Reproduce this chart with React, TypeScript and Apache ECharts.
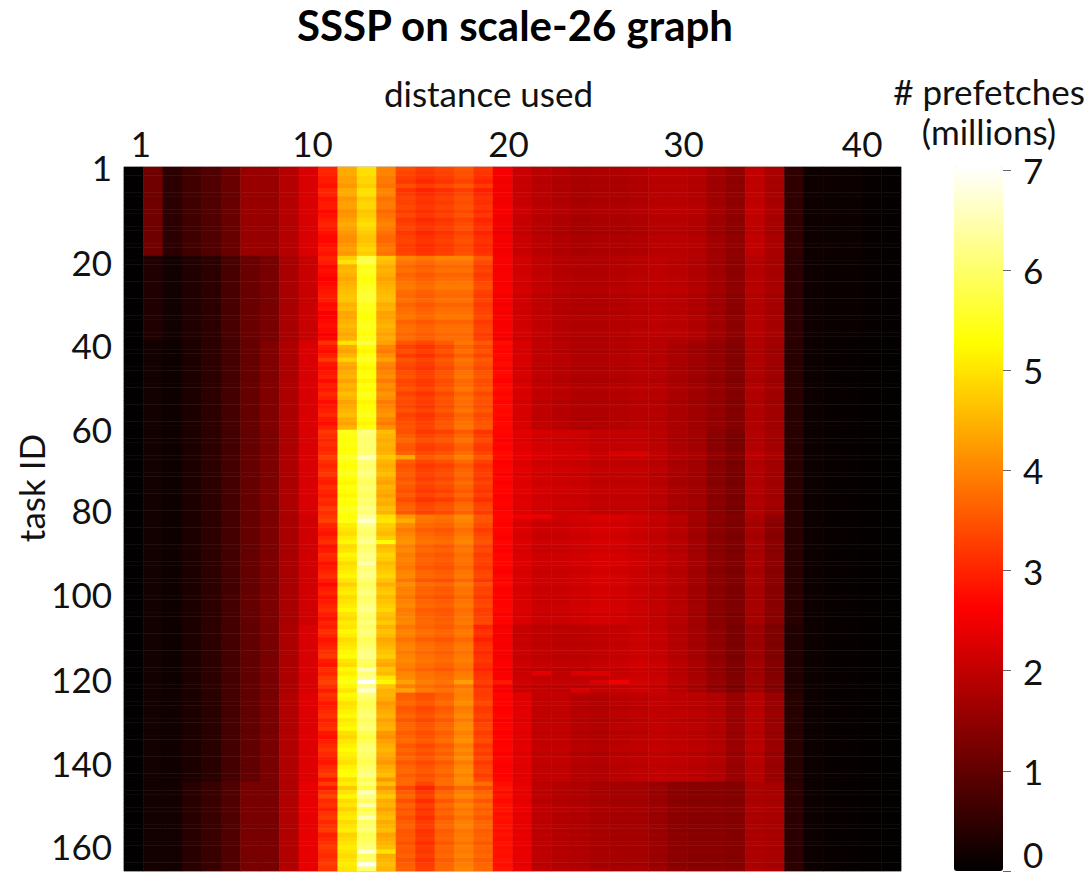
import React, { useEffect, useRef } from "react";
import * as echarts from "echarts";

const FONT = "Lato";

// Column and row categories
const distances = Array.from({ length: 40 }, (_, i) => String(i + 1));
const taskIds = Array.from({ length: 166 }, (_, i) => String(i + 1));

// Tick labels, with where they sit along the axes (in columns / rows)
const xTickLabels = ["1", "10", "20", "30", "40"];
const xTickPos = [0.87, 9.7, 19.8, 28.8, 38];
const yTickLabels = ["1", "20", "40", "60", "80", "100", "120", "140", "160"];
const yTickPos = [0, 22.3, 41.9, 61.8, 80.8, 100.7, 120.7, 140.5, 160.1];

// Prefetch counts (millions) by distance, for blocks of tasks
const blockA = [.02,1.16,.45,.66,.83,1.08,1.57,1.57,1.86,2.23,2.8,4.2,4.75,3.8,3.3,3.14,3.26,3.42,3.1,2.52,2.07,1.9,1.82,1.74,1.78,1.78,1.82,1.9,1.9,1.86,1.65,1.49,1.98,1.74,.5,.16,.12,.12,.06,.05];
const blockB = [.02,.33,.2,.33,.45,.74,1.08,1.24,1.74,2.07,2.7,4.46,5.42,4.4,3.76,3.63,3.76,3.76,3.3,2.56,2.15,1.98,1.86,1.82,1.82,1.86,1.9,1.94,1.9,1.82,1.65,1.45,1.86,1.7,.45,.14,.1,.1,.06,.05];
const blockC = [.02,.2,.16,.29,.45,.7,1.03,1.32,1.78,2.23,2.85,4.4,5.28,4.0,3.4,3.25,3.47,3.76,3.47,2.72,2.23,1.98,1.9,1.82,1.82,1.86,1.9,1.88,1.76,1.65,1.53,1.37,1.82,1.65,.42,.12,.08,.06,.04,.03];
const blockD = [.02,.2,.16,.29,.45,.7,1.03,1.28,1.78,2.23,3.0,5.28,5.98,4.4,3.55,3.3,3.4,3.65,3.25,2.64,2.3,2.15,2.1,2.07,1.98,1.98,1.98,1.9,1.74,1.65,1.41,1.24,1.82,1.65,.42,.12,.08,.06,.04,.03];
const blockE = [.02,.2,.16,.29,.45,.7,1.03,1.28,1.74,2.15,2.9,5.0,6.05,4.65,3.96,3.63,3.55,3.8,3.3,2.64,2.23,2.07,2.07,2.12,2.18,2.15,2.07,1.98,1.86,1.65,1.41,1.28,1.7,1.41,.42,.12,.08,.06,.04,.03];
const blockF = [.02,.2,.16,.29,.45,.7,.99,1.24,1.78,2.23,2.92,5.0,5.95,4.46,3.9,3.7,3.6,3.8,3.05,2.56,2.07,1.98,1.94,1.94,1.98,2.03,2.1,2.03,1.86,1.7,1.49,1.28,1.6,1.32,.33,.12,.08,.06,.04,.03];
const blockG = [.02,.2,.18,.29,.42,.7,.99,1.24,1.82,2.3,2.95,5.05,5.9,4.3,3.63,3.47,3.65,4.0,3.3,2.64,2.32,1.98,1.98,1.86,1.82,1.9,1.94,1.98,1.94,1.9,1.82,1.57,1.86,1.57,.4,.12,.08,.06,.04,.03];
const blockH = [.02,.2,.2,.42,.58,.83,1.24,1.24,1.82,2.4,3.05,4.9,5.9,4.4,3.55,3.2,3.63,3.9,3.63,2.8,2.4,1.94,1.86,1.82,1.74,1.7,1.7,1.6,1.45,1.41,1.41,1.37,1.78,1.74,.45,.12,.08,.06,.04,.03];
const blocks = [blockA, blockB, blockC, blockD, blockE, blockF, blockG, blockH];
const blockFirstRow = [0, 21, 41, 62, 82, 108, 124, 145];

// Row-by-row departures from the block (millions), read for three column groups
const hotRow = [
  .2,.2,.1,.1,0,.2,.2,0,.1,.1,-.1,0,.1,.2,.1,0,-.1,-.1,0,.1,0,
  .3,.2,0,.1,0,-.1,0,.1,.15,.2,.2,0,.1,-.1,-.1,0,.1,0,-.1,0,
  .3,0,-.1,.1,.3,0,-.1,0,.1,-.1,.1,0,.2,.1,-.1,0,.1,.2,0,-.1,.1,
  .2,.1,0,.1,0,.1,.3,.1,0,.1,.2,0,-.1,.1,0,-.1,.1,0,.2,.1,
  .3,.4,.1,0,-.1,.1,.2,-.1,0,.2,.1,-.1,0,.1,.2,0,-.2,0,.1,-.1,0,.1,.2,0,-.1,.1,
  0,.2,.1,-.1,0,.1,.2,.3,0,-.1,.2,.1,.3,.4,.2,0,
  .2,.1,-.1,0,.1,.2,0,.1,.2,-.1,-.2,0,.1,.2,.1,0,-.1,.1,.2,.3,-.1,
  .2,-.2,.1,.3,0,.1,-.1,.1,.2,0,.1,.2,-.1,0,.1,.2,.1,0,.1,.2,.1,
];
const warmRow = [
  .1,.05,0,-.1,.15,-.15,-.05,.05,0,.1,-.05,.1,-.1,0,.05,-.1,0,.05,-.05,0,.05,
  .25,.1,-.05,.05,-.1,0,.1,.15,0,-.05,.05,-.1,0,.05,.1,-.1,0,.05,-.05,0,
  .1,-.1,.05,-.15,.1,0,-.1,.05,.1,-.05,0,.1,-.1,.05,0,-.05,.1,-.1,0,.05,.1,
  -.1,.05,.15,0,-.05,.1,.3,.05,-.1,0,.05,-.05,.1,0,-.1,.05,-.15,.05,.1,0,
  .25,.2,.1,-.05,.05,.15,.2,0,.1,-.05,.05,0,-.1,.05,.1,-.1,.15,0,.05,-.1,.05,.1,-.05,0,.05,.1,
  -.05,.1,.05,-.1,.05,.1,0,.1,.15,.05,-.05,.1,.15,.25,.05,.2,
  -.05,0,.1,-.1,-.05,.05,-.1,.05,.1,-.05,.05,.1,-.1,.05,-.05,.1,-.1,.05,.1,-.05,.1,
  .15,-.2,.05,.15,-.1,.1,-.05,.05,-.1,.05,.1,-.05,0,.05,-.1,.05,0,.1,-.05,.05,.1,
];
const coolRow = [
  0,.03,.01,-.04,.02,-.03,.02,0,-.02,.03,.04,-.02,-.03,.02,-.04,-.05,.02,0,.03,-.02,.01,
  .03,-.02,.04,-.03,.02,.05,-.03,.03,.06,-.04,.02,-.03,.02,-.05,.03,.01,-.02,.02,.05,-.03,
  .03,-.03,-.06,.02,-.04,.02,-.07,.03,-.02,-.08,.01,.03,-.03,.02,-.05,.03,-.02,.01,-.04,.02,-.03,
  .06,.03,-.02,.04,.02,.1,.08,-.03,.02,.05,-.02,.04,-.03,.03,.05,-.04,.02,.03,-.02,.03,
  .08,.03,-.02,.05,.02,-.03,.06,.02,-.02,.06,.03,.08,.02,-.03,.05,.03,.06,-.02,.03,-.04,.02,.03,.05,-.03,.04,.02,
  -.06,.02,-.05,.03,-.04,.02,.03,-.02,.02,.08,-.03,.02,.04,.1,-.02,.05,
  .05,-.02,.03,-.03,.02,.04,-.03,.02,.05,-.03,.03,-.02,.03,.05,-.03,.04,.02,-.03,.02,-.02,.03,
  -.03,.04,-.05,.02,-.06,.01,.04,-.04,.02,-.03,.02,-.02,.03,-.04,.02,-.02,.03,-.02,.02,-.03,.04,
];

// Individual cells that stand out: [row, column, millions]
const standoutCells: [number, number, number][] = [
  [68,12,6.55],[83,12,6.65],[93,12,6.5],[118,12,6.55],[121,12,7.0],[123,12,6.7],[147,12,6.5],[150,12,6.45],[153,12,6.5],[161,12,6.7],[164,12,7.0],
  [83,13,5.0],[88,13,5.3],[121,13,5.2],[120,13,5.0],[161,13,5.0],[68,14,4.35],[83,14,4.4],[121,14,4.3],[123,14,4.3],[121,17,4.3],
  [121,19,2.85],[119,21,2.32],[119,23,2.25],[119,24,2.25],[121,24,2.23],[121,25,2.5],[123,23,2.25],
  [67,21,2.25],[67,26,2.25],[67,25,2.2],[82,20,2.5],[82,21,2.45],[82,19,2.7],
  [45,10,3.2],[45,11,4.8],[22,11,5.0],[22,12,5.8],[41,11,5.0],[41,12,5.75],
];

// The colour scale of the heat map
const hotColors = ["#000000","#550000","#aa0000","#ff0000","#ff5500","#ffaa00","#ffff00","#ffff80","#ffffff"];
const colorMin = 0;
const colorMax = 7.03;

function buildCells() {
  const cells: [number, number, number][] = [];
  taskIds.forEach((_, r) => {
    let b = 0;
    blockFirstRow.forEach((first, i) => { if (r >= first) b = i; });
    distances.forEach((_, c) => {
      let v = blocks[b][c];
      if (c >= 10 && c <= 13) v += hotRow[r] ?? 0;
      else if (c >= 14 && c <= 18) v += warmRow[r] ?? 0;
      else if (c >= 19 && c <= 33) v += coolRow[r] ?? 0;
      cells.push([c, r, Math.max(0, +v.toFixed(3))]);
    });
  });
  standoutCells.forEach(([r, c, v]) => { cells[r * distances.length + c][2] = v; });
  return cells;
}

export default function App() {
  const ref = useRef<HTMLDivElement>(null);
  useEffect(() => {
    const chart = echarts.init(ref.current!, null, { renderer: "svg" });
    const tick = { fontFamily: FONT, fontSize: 35, color: "#111" };
    chart.setOption({
      animation: false,
      backgroundColor: "#fff",
      textStyle: { fontFamily: FONT },
      title: [
        { text: "SSSP on scale-26 graph", left: 515, top: 4, padding: 0, textAlign: "center",
          textStyle: { fontFamily: FONT, fontWeight: "bold", fontSize: 42, color: "#000" } },
        { text: "# prefetches\n(millions)", left: 989, top: 71, padding: 0, textAlign: "center",
          textStyle: { fontFamily: FONT, fontWeight: "normal", fontSize: 35, lineHeight: 40, color: "#111" } },
      ],
      grid: [
        { left: 124, top: 167, width: 777, height: 704, show: true, borderColor: "#aaa", borderWidth: 1, outerBoundsMode: "none" },
        { left: 1003, top: 170, width: 8, height: 701, outerBoundsMode: "none" },
      ],
      xAxis: [
        { type: "category", gridIndex: 0, data: distances, axisLabel: { show: false }, axisTick: { show: false }, axisLine: { show: false }, splitLine: { show: false } },
        { type: "value", gridIndex: 0, position: "top", min: 0, max: 40, name: "distance used", nameLocation: "middle", nameGap: 57,
          nameTextStyle: { fontFamily: FONT, fontSize: 35, color: "#111", padding: [0, 48, 0, 0] },
          axisLine: { show: false }, axisTick: { show: false }, splitLine: { show: false },
          axisLabel: { ...tick, margin: 7, customValues: xTickPos, hideOverlap: false,
            formatter: (v: number) => xTickLabels[xTickPos.indexOf(v)] ?? "" } },
        { type: "value", gridIndex: 1, min: 0, max: 1, show: false },
      ],
      yAxis: [
        { type: "category", gridIndex: 0, inverse: true, data: taskIds, axisLabel: { show: false }, axisTick: { show: false }, axisLine: { show: false }, splitLine: { show: false } },
        { type: "value", gridIndex: 0, position: "left", inverse: true, min: 0, max: 166, name: "task ID", nameLocation: "middle", nameGap: 76, nameRotate: 90, nameMoveOverlap: false,
          nameTextStyle: { fontFamily: FONT, fontSize: 35, color: "#111", padding: [0, 0, 0, 62] },
          axisLine: { show: false }, axisTick: { show: false }, splitLine: { show: false },
          axisLabel: { ...tick, margin: 12, customValues: yTickPos, hideOverlap: false,
            formatter: (v: number) => yTickLabels[yTickPos.indexOf(v)] ?? "" } },
        { type: "value", gridIndex: 1, position: "right", min: 0, max: 7, interval: 1,
          axisLine: { show: false }, axisTick: { show: false },
          splitLine: { show: true, lineStyle: { color: "#666", width: 1, type: "solid" } },
          axisLabel: { ...tick, margin: 12, verticalAlignMinLabel: "bottom" } },
      ],
      visualMap: {
        type: "continuous", seriesIndex: 0, min: colorMin, max: colorMax, calculable: false, realtime: false,
        left: 954, top: 167, itemWidth: 49, itemHeight: 704, padding: 0, showLabel: false, text: ["", ""],
        inRange: { color: hotColors },
      },
      series: [{
        type: "heatmap", xAxisIndex: 0, yAxisIndex: 0, data: buildCells(),
        progressive: 0, emphasis: { disabled: true }, itemStyle: { borderWidth: 0 },
      }],
    });
    return () => chart.dispose();
  }, []);
  return <div ref={ref} style={{ position: "absolute", left: 0, top: 0, width: 1091, height: 875 }} />;
}
